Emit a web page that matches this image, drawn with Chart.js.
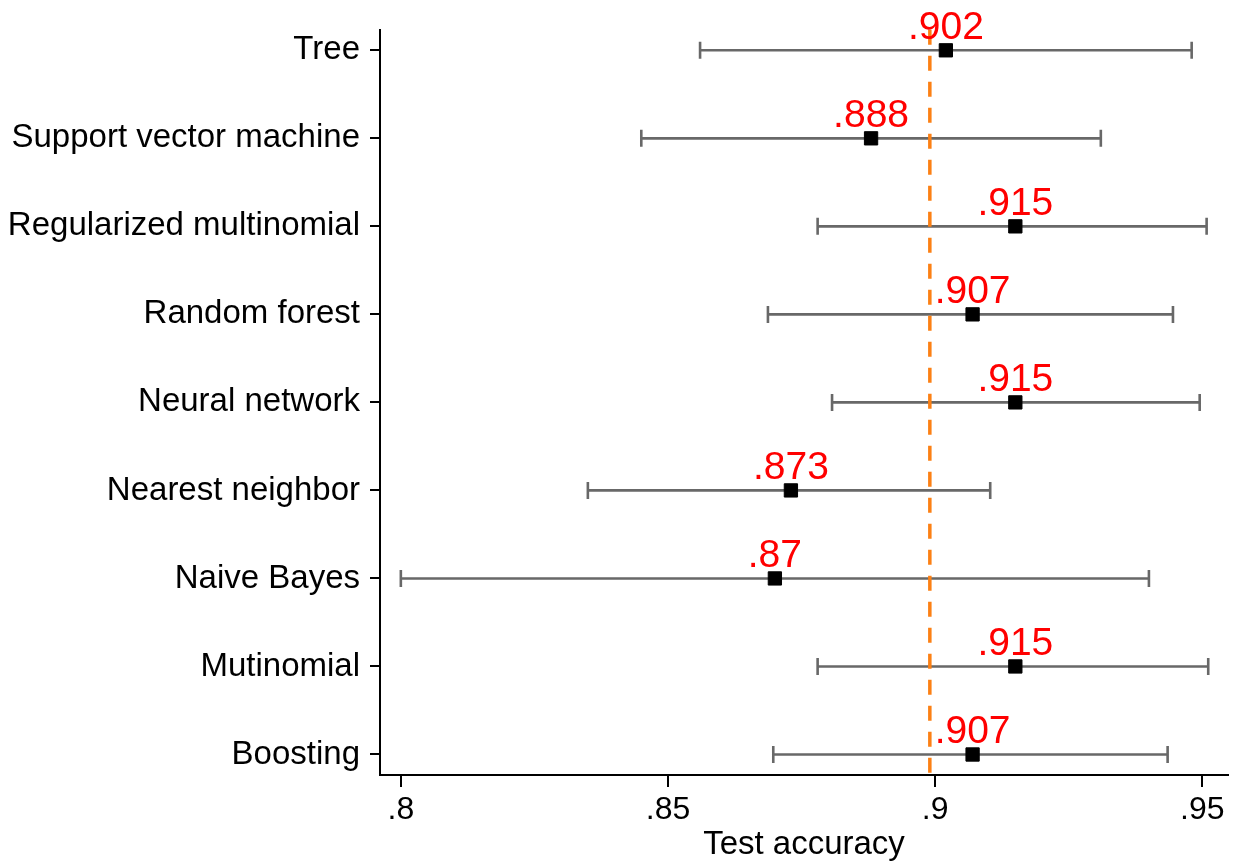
<!DOCTYPE html>
<html>
<head>
<meta charset="utf-8">
<title>Test accuracy by model</title>
<script src="https://cdn.jsdelivr.net/npm/chart.js@4.4.1/dist/chart.umd.min.js"></script>
<style>
  html, body { margin: 0; padding: 0; background: #fff; }
  #wrap { width: 1241px; height: 865px; }
</style>
</head>
<body>
<div id="wrap"><canvas id="chart" width="1241" height="865"></canvas></div>
<script>
// Models, top to bottom
const categories = [
  'Tree',
  'Support vector machine',
  'Regularized multinomial',
  'Random forest',
  'Neural network',
  'Nearest neighbor',
  'Naive Bayes',
  'Mutinomial',
  'Boosting'
];

// Point estimates of test accuracy
const accuracy = [0.902, 0.888, 0.915, 0.907, 0.915, 0.873, 0.87, 0.915, 0.907];

// Interval bounds
const ciLower = [0.856, 0.845, 0.878, 0.8687, 0.8807, 0.835, 0.800, 0.878, 0.8697];
const ciUpper = [0.948, 0.931, 0.9508, 0.9445, 0.9495, 0.9103, 0.940, 0.9511, 0.9435];

// Reference line: average accuracy across models
const meanAccuracy = 0.899;

// Horizontal axis ticks
const xTicks = [0.8, 0.85, 0.9, 0.95];

const FONT = '"Liberation Sans", Arial, Helvetica, sans-serif';

// Stata-style number format: drop the leading zero (.902, .87)
const fmt = v => String(+v.toFixed(3)).replace(/^0\./, '.');

const overlay = {
  id: 'overlay',
  beforeDatasetsDraw(chart) {
    const { ctx, chartArea, scales: { x, y } } = chart;
    ctx.save();
    // interval whiskers with end caps
    ctx.strokeStyle = 'rgb(104,104,104)';
    ctx.lineWidth = 2.6;
    ctx.lineCap = 'butt';
    categories.forEach((_, i) => {
      const yp = y.getPixelForValue(i);
      const x0 = x.getPixelForValue(ciLower[i]);
      const x1 = x.getPixelForValue(ciUpper[i]);
      ctx.beginPath();
      ctx.moveTo(x0, yp); ctx.lineTo(x1, yp);
      ctx.moveTo(x0, yp - 8.5); ctx.lineTo(x0, yp + 8.5);
      ctx.moveTo(x1, yp - 8.5); ctx.lineTo(x1, yp + 8.5);
      ctx.stroke();
    });
    // dashed average line
    const xm = x.getPixelForValue(meanAccuracy);
    ctx.strokeStyle = 'rgb(252,128,20)';
    ctx.lineWidth = 3.5;
    ctx.setLineDash([15, 11]);
    ctx.beginPath();
    ctx.moveTo(xm, chartArea.top);
    ctx.lineTo(xm, chartArea.bottom);
    ctx.stroke();
    ctx.restore();
  },
  afterDatasetsDraw(chart) {
    const { ctx, scales: { x, y } } = chart;
    ctx.save();
    ctx.fillStyle = 'rgb(255,0,0)';
    ctx.font = '39px ' + FONT;
    ctx.textAlign = 'center';
    ctx.textBaseline = 'alphabetic';
    accuracy.forEach((v, i) => {
      ctx.fillText(fmt(v), x.getPixelForValue(v), y.getPixelForValue(i) - 11.5);
    });
    ctx.restore();
  }
};

new Chart(document.getElementById('chart'), {
  type: 'scatter',
  data: {
    datasets: [{
      label: 'Test accuracy',
      data: accuracy.map((v, i) => ({ x: v, y: i })),
      pointStyle: 'rect',
      pointRadius: 9.4,
      pointBorderWidth: 1,
      pointBackgroundColor: '#000',
      pointBorderColor: '#000'
    }]
  },
  options: {
    responsive: false,
    animation: false,
    layout: { padding: { top: 28, right: 13, left: 0, bottom: 0 } },
    plugins: { legend: { display: false }, tooltip: { enabled: false } },
    scales: {
      x: {
        type: 'linear',
        position: 'bottom',
        min: 0.7961,
        max: 0.9548,
        afterBuildTicks: axis => { axis.ticks = xTicks.map(v => ({ value: v })); },
        afterFit: axis => { axis.height = 90; },
        border: { display: true, color: '#000', width: 2 },
        grid: { drawOnChartArea: false, drawTicks: true, tickLength: 12, color: '#000', lineWidth: 2 },
        ticks: {
          color: '#000',
          font: { family: FONT, size: 32 },
          padding: 4,
          maxRotation: 0,
          callback: v => fmt(v)
        },
        title: {
          display: true,
          text: 'Test accuracy',
          color: '#000',
          font: { family: FONT, size: 33 },
          padding: { top: 0, bottom: 0 }
        }
      },
      y: {
        type: 'linear',
        reverse: true,
        min: -0.233,
        max: 8.233,
        afterBuildTicks: axis => { axis.ticks = categories.map((_, i) => ({ value: i })); },
        afterFit: axis => { axis.width = 380; },
        border: { display: true, color: '#000', width: 2 },
        grid: { drawOnChartArea: false, drawTicks: true, tickLength: 10, color: '#000', lineWidth: 2 },
        ticks: {
          color: '#000',
          font: { family: FONT, size: 33 },
          padding: 10,
          callback: v => categories[v]
        }
      }
    }
  },
  plugins: [overlay]
});
</script>
</body>
</html>
